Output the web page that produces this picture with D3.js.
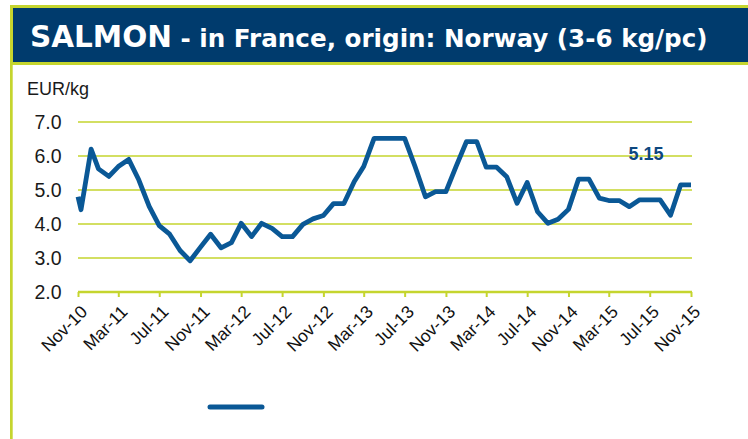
<!DOCTYPE html>
<html><head><meta charset="utf-8">
<script src="https://cdn.jsdelivr.net/npm/d3@7"></script>
<style>html,body{margin:0;padding:0;background:#fff;}svg{display:block;}</style>
</head><body>
<svg id="c" width="748" height="439"></svg>
<script>
const titleMain = "SALMON";
const titleRest = " - in France, origin: Norway (3-6 kg/pc)";
const unitLabel = "EUR/kg";
const dates = [
 "2010-11-01","2010-11-10","2010-12-10",
 "2011-01-01","2011-02-01","2011-03-01","2011-04-01","2011-05-01","2011-06-01","2011-07-01","2011-08-01","2011-09-01","2011-10-01","2011-11-01","2011-12-01",
 "2012-01-01","2012-02-01","2012-03-01","2012-04-01","2012-05-01","2012-06-01","2012-07-01","2012-08-01","2012-09-01","2012-10-01","2012-11-01","2012-12-01",
 "2013-01-01","2013-02-01","2013-03-01","2013-04-01","2013-05-01","2013-06-01","2013-07-01","2013-08-01","2013-09-01","2013-10-01","2013-11-01","2013-12-01",
 "2014-01-01","2014-02-01","2014-03-01","2014-04-01","2014-05-01","2014-06-01","2014-07-01","2014-08-01","2014-09-01","2014-10-01","2014-11-01","2014-12-01",
 "2015-01-01","2015-02-01","2015-03-01","2015-04-01","2015-05-01","2015-06-01","2015-07-01","2015-08-01","2015-09-01","2015-10-01","2015-11-01"
];
const prices = [
 4.80,4.42,6.20,
 5.62,5.40,5.69,5.90,5.30,4.52,3.95,3.70,3.22,2.92,3.32,3.70,
 3.30,3.45,4.02,3.63,4.02,3.87,3.63,3.63,3.99,4.15,4.25,4.60,
 4.60,5.25,5.69,6.52,6.52,6.52,6.52,5.69,4.80,4.95,4.95,5.69,
 6.42,6.42,5.67,5.67,5.39,4.61,5.22,4.36,4.02,4.14,4.43,5.32,
 5.32,4.76,4.69,4.69,4.51,4.71,4.71,4.71,4.26,5.15,5.15
];
const xTickLabels = ["Nov-10","Mar-11","Jul-11","Nov-11","Mar-12","Jul-12","Nov-12","Mar-13","Jul-13","Nov-13","Mar-14","Jul-14","Nov-14","Mar-15","Jul-15","Nov-15"];
const yTicks = [2,3,4,5,6,7];
const lastLabel = "5.15";

const GREEN = "#C5D52E", NAVY = "#003B6D", LINE = "#0A5896";
const svg = d3.select("#c");
const parseD = d3.timeParse("%Y-%m-%d");
const parseT = d3.timeParse("%b-%y");
const data = dates.map((d,i)=>({date:parseD(d), v:prices[i]}));
const tickDates = xTickLabels.map(parseT);

// frame
svg.append("rect").attr("x",10).attr("y",5).attr("width",738).attr("height",60).attr("fill",GREEN);
svg.append("rect").attr("x",13).attr("y",8).attr("width",735).attr("height",54).attr("fill",NAVY);
svg.append("rect").attr("x",10).attr("y",5).attr("width",2.7).attr("height",434).attr("fill",GREEN);

// title
const t = svg.append("text").attr("x",30).attr("y",47).attr("fill","#fff")
  .attr("font-family","DejaVu Sans, Verdana, sans-serif").attr("font-weight","bold");
t.append("tspan").attr("font-size",29.5).text(titleMain);
const rest = t.append("tspan").attr("font-size",20).text(titleRest);
const n0 = t.node();
const total = n0.getComputedTextLength();
const mainW = n0.getSubStringLength(0, titleMain.length);
const restW = total - mainW;
const target = 708 - 30 - mainW;
rest.attr("font-size", 20*target/restW);

// scales
const x = d3.scaleTime().domain([tickDates[0], tickDates[tickDates.length-1]]).range([78, 691]);
const y = d3.scaleLinear().domain([2,7]).range([292,122]);

// gridlines
svg.append("g").selectAll("line").data(yTicks.filter(v=>v>2)).join("line")
  .attr("x1",x.range()[0]).attr("x2",x.range()[1]+1)
  .attr("y1",d=>y(d)).attr("y2",d=>y(d))
  .attr("stroke",GREEN).attr("stroke-width",1.6);

// y labels
svg.append("g").selectAll("text").data(yTicks).join("text")
  .attr("x",61.5).attr("y",d=>y(d)).attr("dy","0.36em").attr("text-anchor","end")
  .attr("font-family","Liberation Sans, Arial, sans-serif").attr("font-size",19.5).attr("fill","#1a1a1a")
  .text(d=>d3.format(".1f")(d));
svg.append("text").attr("x",27).attr("y",95).attr("font-family","Liberation Sans, Arial, sans-serif")
  .attr("font-size",18).attr("fill","#1a1a1a").text(unitLabel);

// x axis
const xAxis = d3.axisBottom(x).tickValues(tickDates).tickFormat((d,i)=>xTickLabels[i]).tickSize(5).tickSizeOuter(0);
const gx = svg.append("g").attr("transform",`translate(0,${y(2)})`).call(xAxis);
gx.select(".domain").attr("stroke",GREEN).attr("stroke-width",2.6).attr("d",`M${x.range()[0]},0H${x.range()[1]+1}`);
gx.selectAll(".tick line").attr("stroke",GREEN).attr("stroke-width",2);
gx.selectAll(".tick text").attr("font-family","Liberation Sans, Arial, sans-serif").attr("font-size",17.5)
  .attr("fill","#111").attr("text-anchor","end")
  .attr("transform","translate(1,12) rotate(-45)").attr("dy","0.72em").attr("y",0).attr("x",0);

// line
const line = d3.line().x(d=>x(d.date)).y(d=>y(d.v));
svg.append("path").datum(data).attr("d",line).attr("fill","none").attr("stroke",LINE)
  .attr("stroke-width",4.8).attr("stroke-linejoin","round").attr("stroke-linecap","butt");

// last value label
const last = data[data.length-1];
svg.append("text").attr("x",x(parseD("2015-06-20"))).attr("y",y(last.v+0.73))
  .attr("text-anchor","middle").attr("font-family","Liberation Sans, Arial, sans-serif")
  .attr("font-weight","bold").attr("font-size",18).attr("fill","#0D4880").text(lastLabel);

// legend
svg.append("line").attr("x1",210).attr("x2",262).attr("y1",407).attr("y2",407)
  .attr("stroke",LINE).attr("stroke-width",5).attr("stroke-linecap","round");
</script>
</body></html>
